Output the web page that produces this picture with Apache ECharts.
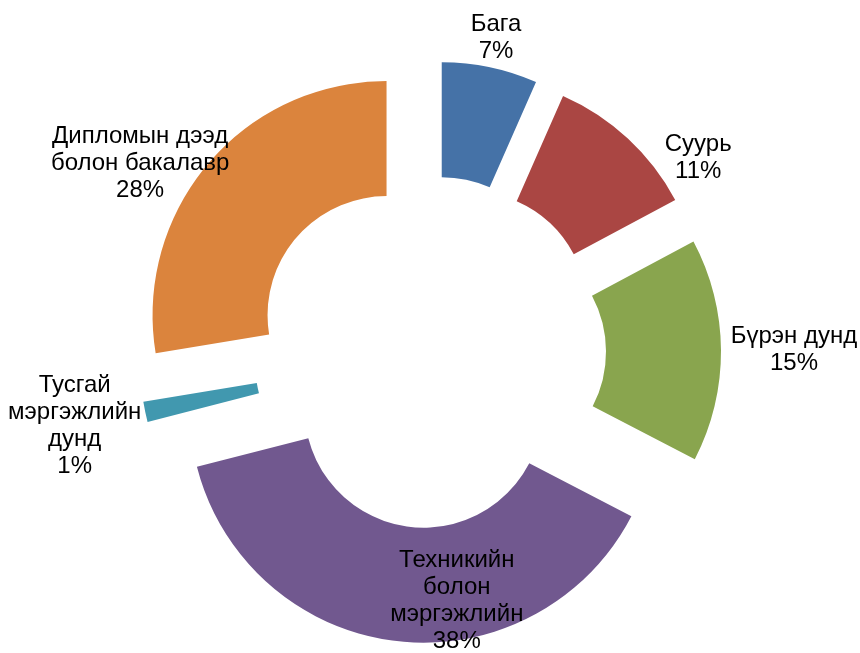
<!DOCTYPE html>
<html><head><meta charset="utf-8">
<script src="https://cdn.jsdelivr.net/npm/echarts@6/dist/echarts.min.js"></script>
<style>html,body{margin:0;padding:0;background:#fff}#c{width:860px;height:653px}</style>
</head><body><div id="c"></div>
<script>
const categories = ['Бага', 'Суурь', 'Бүрэн дунд', 'Техникийн\nболон\nмэргэжлийн', 'Тусгай\nмэргэжлийн\nдунд', 'Дипломын дээд\nболон бакалавр'];
const shares = [6.6, 10.6, 15.4, 38.4, 1.4, 27.6];
const colors = ['#4572A7', '#AA4643', '#89A54E', '#71588F', '#4198AF', '#DB843D'];
// label placement (style only): [radial length beyond outer radius, horizontal length]
const labelPlacement = [[30, 0], [-26, 88], [0, 73], [-41, -55], [69, 3], [0, 68]];

const data = categories.map((name, i) => ({
  name: name,
  value: shares[i],
  selected: true,
  labelLine: { show: false, length: labelPlacement[i][0], length2: labelPlacement[i][1] }
}));

const chart = echarts.init(document.getElementById('c'), null, { renderer: 'canvas' });
chart.setOption({
  animation: false,
  color: colors,
  series: [{
    type: 'pie',
    center: [430, 352],
    radius: [119, 234],
    startAngle: 90,
    clockwise: true,
    selectedMode: 'multiple',
    selectedOffset: 57,
    avoidLabelOverlap: false,
    percentPrecision: 0,
    emphasis: { disabled: true },
    label: {
      show: true, position: 'outside', alignTo: 'none', distanceToLabelLine: 0, overflow: 'none',
      formatter: '{b}\n{d}%', color: '#000',
      fontFamily: '"Liberation Sans", Arial, sans-serif', fontSize: 24, lineHeight: 27
    },
    labelLine: { show: false },
    labelLayout: function () { return { align: 'center' }; },
    itemStyle: { borderWidth: 0 },
    data: data
  }]
});
</script></body></html>
